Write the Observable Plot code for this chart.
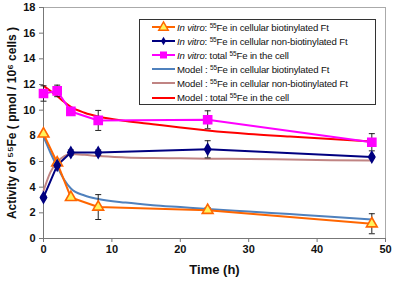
<!DOCTYPE html>
<html>
<head>
<meta charset="utf-8">
<script src="https://cdn.jsdelivr.net/npm/d3@7"></script>
<script src="https://cdn.jsdelivr.net/npm/@observablehq/plot@0.6"></script>
<style>
  body { margin: 0; background: #fff; }
  #wrap { position: relative; width: 393px; height: 283px; font-family: "Liberation Sans", Arial, sans-serif; }
  #legend { position: absolute; left: 139px; top: 19px; width: 237px; height: 86px; border: 1px solid #333; background: #fff; box-sizing: border-box; }
  .row { position: absolute; left: 0; height: 14px; display: flex; align-items: center; font-size: 9.6px; color: #111; white-space: nowrap; letter-spacing: -0.15px; }
  .row svg { width: 37px; height: 14px; flex: none; }
  .row sup { font-size: 6.5px; vertical-align: 3px; line-height: 0; }
</style>
</head>
<body>
<div id="wrap"></div>
<script>
// In vitro measurements
const times = [0, 2, 4, 8, 24, 48];
const biot = [8.15, 5.9, 3.2, 2.45, 2.2, 1.15];
const biotErr = [0.1, 0, 0.1, 0.97, 0.2, 0.78];
const nonBiot = [3.2, 5.7, 6.7, 6.7, 6.95, 6.35];
const nonBiotErr = [0.1, 0.15, 0.2, 0.2, 0.67, 0.1];
const total = [11.3, 11.5, 9.9, 9.2, 9.25, 7.5];
const totalErr = [0.6, 0.45, 0.2, 0.78, 0.7, 0.67];

// Model curves
const modelTimes = [0, 1, 2, 3, 4, 6, 8, 12, 16, 20, 24, 30, 36, 42, 48];
const modelBiot = [7.95, 6.7, 5.6, 4.6, 3.9, 3.35, 3.08, 2.8, 2.6, 2.45, 2.3, 2.1, 1.9, 1.7, 1.48];
const modelNonBiot = [3.7, 5.15, 5.95, 6.4, 6.58, 6.52, 6.42, 6.32, 6.27, 6.25, 6.22, 6.2, 6.15, 6.1, 6.08];
const modelTotal = [11.9, 11.5, 11.1, 10.65, 10.25, 9.8, 9.5, 9.15, 8.9, 8.65, 8.42, 8.15, 7.95, 7.75, 7.55];

const xTicks = [0, 10, 20, 30, 40, 50];
const yTicks = [0, 2, 4, 6, 8, 10, 12, 14, 16, 18];

const colors = {
  biot: "#FF6600", non: "#000080", total: "#FF00FF",
  mBiot: "#4F81BD", mNon: "#C08483", mTotal: "#FF0000"
};

const series = (xs, ys) => xs.map((t, i) => ({t, v: ys[i]}));
const errs = (ys, es) => times.map((t, i) => ({t, lo: ys[i] - es[i], hi: ys[i] + es[i]})).filter((d, i) => es[i] > 0);
const allErr = [...errs(biot, biotErr), ...errs(nonBiot, nonBiotErr), ...errs(total, totalErr)];
const caps = allErr.flatMap(d => [{t: d.t, v: d.lo}, {t: d.t, v: d.hi}]);
const hline = {draw(ctx, size) { const w = 3; ctx.moveTo(-w, 0); ctx.lineTo(w, 0); }};

const plot = Plot.plot({
  width: 393, height: 283,
  marginLeft: 43, marginRight: 8, marginTop: 7, marginBottom: 45,
  style: {fontFamily: "'Liberation Sans', Arial, sans-serif", fontSize: "11px", fontWeight: "bold", color: "#111", background: "#fff", overflow: "visible"},
  x: {domain: [0, 50], label: null},
  y: {domain: [0, 18], label: null},
  marks: [
    Plot.frame({stroke: "#aaa"}),
    Plot.axisX({ticks: xTicks, tickSize: 4, tickPadding: 3, stroke: "#777", fontWeight: "bold", fontSize: 11}),
    Plot.axisY({ticks: yTicks, tickSize: 4, tickPadding: 4, stroke: "#777", fontWeight: "bold", fontSize: 11}),
    Plot.ruleY([0], {stroke: "#777"}),
    Plot.ruleX([0], {stroke: "#777"}),
    Plot.text(["Time (h)"], {frameAnchor: "bottom", dy: 35, fontSize: 13, fontWeight: "bold"}),
    Plot.text(["Activity of \u2075\u2075Fe ( pmol / 10\u2076 cells )"], {frameAnchor: "left", textAnchor: "middle", dx: -31, rotate: -90, fontSize: 12, fontWeight: "bold"}),
    // model curves
    Plot.line(series(modelTimes, modelNonBiot), {x: "t", y: "v", stroke: colors.mNon, strokeWidth: 2, curve: "monotone-x"}),
    Plot.line(series(modelTimes, modelBiot), {x: "t", y: "v", stroke: colors.mBiot, strokeWidth: 2, curve: "monotone-x"}),
    Plot.line(series(modelTimes, modelTotal), {x: "t", y: "v", stroke: colors.mTotal, strokeWidth: 2, curve: "monotone-x"}),
    // in vitro lines
    Plot.line(series(times, biot), {x: "t", y: "v", stroke: colors.biot, strokeWidth: 2}),
    Plot.line(series(times, nonBiot), {x: "t", y: "v", stroke: colors.non, strokeWidth: 2}),
    Plot.line(series(times, total), {x: "t", y: "v", stroke: colors.total, strokeWidth: 2}),
    // error bars
    Plot.ruleX(allErr, {x: "t", y1: "lo", y2: "hi", stroke: "#222", strokeWidth: 1}),
    Plot.dot(caps, {x: "t", y: "v", symbol: hline, stroke: "#222", fill: "none", strokeWidth: 1, r: 3}),
    // markers
    Plot.dot(series(times, biot), {x: "t", y: "v", symbol: "triangle", r: 4, stroke: colors.biot, fill: "#FFF35C", strokeWidth: 1.6}),
    Plot.dot(series(times, nonBiot), {x: "t", y: "v", symbol: "diamond", r: 3.3, fill: colors.non, stroke: colors.non}),
    Plot.dot(series(times, total), {x: "t", y: "v", symbol: "square", r: 4.6, fill: colors.total, stroke: colors.total})
  ]
});
document.getElementById("wrap").appendChild(plot);

// legend
const legendItems = [
  {kind: "tri", color: colors.biot, html: "<i>In vitro</i>: <sup>55</sup>Fe in cellular biotinylated Ft"},
  {kind: "dia", color: colors.non, html: "<i>In vitro</i>: <sup>55</sup>Fe in cellular non-biotinylated Ft"},
  {kind: "sq", color: colors.total, html: "<i>In vitro</i>: total <sup>55</sup>Fe in the cell"},
  {kind: "line", color: colors.mBiot, html: "Model : <sup>55</sup>Fe in cellular biotinylated Ft"},
  {kind: "line", color: colors.mNon, html: "Model : <sup>55</sup>Fe in cellular non-biotinylated Ft"},
  {kind: "line", color: colors.mTotal, html: "Model : total <sup>55</sup>Fe in the cell"}
];
const legend = d3.select("#wrap").append("div").attr("id", "legend");
legendItems.forEach((it, i) => {
  const row = legend.append("div").attr("class", "row").style("top", (0 + i * 14.1) + "px");
  const svg = row.append("svg");
  svg.append("line").attr("x1", 12).attr("x2", 35).attr("y1", 7).attr("y2", 7).attr("stroke", it.color).attr("stroke-width", 2);
  if (it.kind === "tri") svg.append("path").attr("d", d3.symbol(d3.symbolTriangle, 40)()).attr("transform", "translate(23.5,7.5)").attr("fill", "#FFF35C").attr("stroke", it.color).attr("stroke-width", 1.4);
  if (it.kind === "dia") svg.append("path").attr("d", d3.symbol(d3.symbolDiamond, 22)()).attr("transform", "translate(23.5,7)").attr("fill", it.color);
  if (it.kind === "sq") svg.append("rect").attr("x", 20).attr("y", 3.5).attr("width", 7).attr("height", 7).attr("fill", it.color);
  row.append("span").html(it.html);
});
</script>
</body>
</html>
